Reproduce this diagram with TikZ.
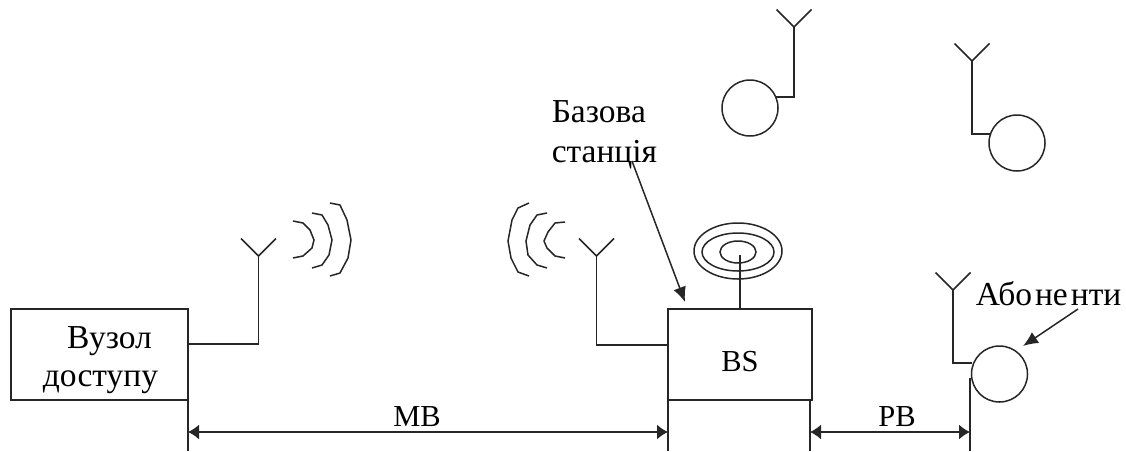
\documentclass[tikz,border=0pt]{standalone}
\usepackage{fontspec}
\setmainfont{Liberation Serif}
\usetikzlibrary{arrows.meta,shapes.geometric}
\tikzset{
    blok/.style={draw, rectangle, inner sep=0pt},
    abonent/.style={draw, circle, minimum size=56pt, inner sep=0pt},
    tarilka/.style={draw, ellipse, inner sep=0pt},
    napys/.style={inner sep=0pt, text=black, font=\fontsize{33.5}{38}\selectfont},
    mitka/.style={inner sep=0pt, text=black, font=\fontsize{30.5}{38}\selectfont},
    vkaz/.style={-{Latex[length=15pt,width=13pt]}},
    rozmir/.style={{Latex[length=11pt,width=15pt]}-{Latex[length=11pt,width=15pt]}}
}
\begin{document}
\begin{tikzpicture}[x=1pt, y=-1pt, line width=1.5pt, color=black!85]
    \useasboundingbox (0,0) rectangle (1126,451);

    % Blocks
    \node[blok, minimum width=177pt, minimum height=91pt] (vuzol) at (99.5,354.5) {};
    \node[blok, minimum width=144pt, minimum height=91pt] (bs) at (740,354.5) {};
    \node[napys, align=center] (vuzoltxt) at (100.5,360) {\hspace*{18pt}Вузол\\доступу};
    \node[mitka] (bstxt) at (740,362) {BS};

    % Subscribers
    \foreach \i/\x/\y in {1/750/108, 2/1017/143, 3/999.5/374} {
        \node[abonent] (S\i) at (\x,\y) {};
    }

    % Antennas
    \foreach \i/\x/\y in {1/258.5/256, 2/596.5/256, 3/794/27, 4/972/61, 5/953/290} {
        \coordinate (A\i) at (\x,\y);
        \coordinate (AL\i) at (\x-17.5,\y-17.5);
        \coordinate (AR\i) at (\x+17.5,\y-17.5);
        \draw (AL\i) -- (A\i) -- (AR\i);
    }

    % Feeds of the antennas
    \coordinate (F1) at (188,344);
    \coordinate (F2) at (668,345);
    \coordinate (F3) at (776,97);
    \coordinate (F4) at (990,134);
    \coordinate (F5) at (972,363);
    \draw (F1) -| (A1);
    \draw (F2) -| (A2);
    \draw (F3) -| (A3);
    \draw (F4) -| (A4);
    \draw (F5) -| (A5);

    % Dish on the base station
    \node[tarilka, minimum width=88pt, minimum height=56pt] (dish1) at (738,251) {};
    \node[tarilka, minimum width=72pt, minimum height=38pt] (dish2) at (738,252) {};
    \node[tarilka, minimum width=36pt, minimum height=22pt] (dish3) at (738,252) {};
    \coordinate (dishtop) at (740,255);
    \draw (bs.north) -- (dishtop);

    % Waves
    \draw (293,221) -- (303,223) -- (310,230) -- (314,240) -- (312,248) -- (303,256) -- (293,258);
    \draw (312,213) -- (322,215) -- (328,225) -- (332,240) -- (329,255) -- (322,265) -- (312,268);
    \draw (330,203) -- (340,205) -- (347,220) -- (351,240) -- (348,258) -- (340,273) -- (330,276);
    \draw (565,222) -- (555,223) -- (548,232) -- (544,241) -- (547,248) -- (555,256) -- (565,258);
    \draw (547,213) -- (537,215) -- (530,225) -- (526,241) -- (528,255) -- (537,265) -- (547,268);
    \draw (529,203) -- (518,208) -- (512,220) -- (508,241) -- (511,258) -- (518,272) -- (529,276);

    % Labels with pointers
    \node[napys, align=left, anchor=north west, font=\fontsize{33.5}{40}\selectfont] (bazova) at (551,100) {Базова\\станція};
    \node[napys, anchor=west] (abon) at (975,294) {Або\hspace{3pt}не\hspace{3pt}нти};
    \coordinate (B1) at (632,161);
    \coordinate (B2) at (685,302);
    \coordinate (C1) at (1078,309);
    \coordinate (C2) at (1023,346);
    \draw[vkaz] (B1) -- (B2);
    \draw[vkaz] (C1) -- (C2);

    % Dimension lines
    \coordinate (D1) at (188,400);  \coordinate (E1) at (188,451);
    \coordinate (D2) at (668,400);  \coordinate (E2) at (668,451);
    \coordinate (D3) at (810,400);  \coordinate (E3) at (810,451);
    \coordinate (D4) at (970,378);  \coordinate (E4) at (970,451);
    \foreach \i in {1, 2, 3, 4} {
        \draw (D\i) -- (E\i);
    }
    \coordinate (M1) at (188,432);
    \coordinate (M2) at (668,432);
    \coordinate (M3) at (810,432);
    \coordinate (M4) at (970,432);
    \draw[rozmir] (M1) -- (M2);
    \draw[rozmir] (M3) -- (M4);
    \node[mitka] (mbtxt) at (417,417) {MB};
    \node[mitka] (pbtxt) at (897,417) {PB};

\end{tikzpicture}
\end{document}
